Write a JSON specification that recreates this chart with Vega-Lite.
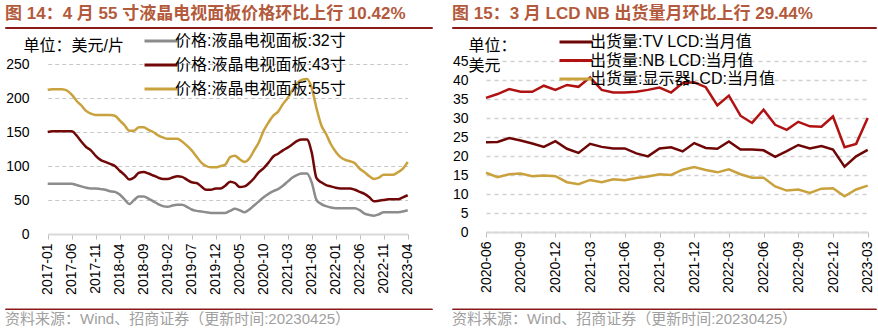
{
  "$schema": "https://vega.github.io/schema/vega-lite/v6.json",
  "padding": {"left": 4, "top": 4, "right": 0, "bottom": 0},
  "background": "white",
  "spacing": 18,
  "resolve": {"scale": {"color": "independent"}, "legend": {"color": "independent"}},
  "config": {
    "font": "Liberation Sans, Noto Sans CJK SC",
    "view": {"stroke": null},
    "axis": {"labelFont": "Liberation Sans, Noto Sans CJK SC", "titleFont": "Liberation Sans, Noto Sans CJK SC", "labelColor": "#000000", "titleColor": "#000000"},
    "legend": {"labelFont": "Liberation Sans, Noto Sans CJK SC", "labelColor": "#000000"}
  },
  "datasets": {
    "p14": [
      {"m":"2017-01","价格:液晶电视面板:32寸":74,"价格:液晶电视面板:43寸":150,"价格:液晶电视面板:55寸":212},
      {"m":"2017-02","价格:液晶电视面板:32寸":74,"价格:液晶电视面板:43寸":151,"价格:液晶电视面板:55寸":213},
      {"m":"2017-03","价格:液晶电视面板:32寸":74,"价格:液晶电视面板:43寸":151,"价格:液晶电视面板:55寸":213},
      {"m":"2017-04","价格:液晶电视面板:32寸":74,"价格:液晶电视面板:43寸":151,"价格:液晶电视面板:55寸":213},
      {"m":"2017-05","价格:液晶电视面板:32寸":74,"价格:液晶电视面板:43寸":151,"价格:液晶电视面板:55寸":211},
      {"m":"2017-06","价格:液晶电视面板:32寸":74,"价格:液晶电视面板:43寸":151,"价格:液晶电视面板:55寸":205},
      {"m":"2017-07","价格:液晶电视面板:32寸":72,"价格:液晶电视面板:43寸":145,"价格:液晶电视面板:55寸":196},
      {"m":"2017-08","价格:液晶电视面板:32寸":70,"价格:液晶电视面板:43寸":136,"价格:液晶电视面板:55寸":189},
      {"m":"2017-09","价格:液晶电视面板:32寸":68,"价格:液晶电视面板:43寸":128,"价格:液晶电视面板:55寸":181},
      {"m":"2017-10","价格:液晶电视面板:32寸":67,"价格:液晶电视面板:43寸":123,"价格:液晶电视面板:55寸":177},
      {"m":"2017-11","价格:液晶电视面板:32寸":67,"价格:液晶电视面板:43寸":115,"价格:液晶电视面板:55寸":175},
      {"m":"2017-12","价格:液晶电视面板:32寸":66,"价格:液晶电视面板:43寸":109,"价格:液晶电视面板:55寸":175},
      {"m":"2018-01","价格:液晶电视面板:32寸":65,"价格:液晶电视面板:43寸":106,"价格:液晶电视面板:55寸":175},
      {"m":"2018-02","价格:液晶电视面板:32寸":63,"价格:液晶电视面板:43寸":103,"价格:液晶电视面板:55寸":175},
      {"m":"2018-03","价格:液晶电视面板:32寸":62,"价格:液晶电视面板:43寸":100,"价格:液晶电视面板:55寸":174},
      {"m":"2018-04","价格:液晶电视面板:32寸":58,"价格:液晶电视面板:43寸":93,"价格:液晶电视面板:55寸":167},
      {"m":"2018-05","价格:液晶电视面板:32寸":51,"价格:液晶电视面板:43寸":87,"价格:液晶电视面板:55寸":160},
      {"m":"2018-06","价格:液晶电视面板:32寸":44,"价格:液晶电视面板:43寸":80,"价格:液晶电视面板:55寸":152},
      {"m":"2018-07","价格:液晶电视面板:32寸":50,"价格:液晶电视面板:43寸":83,"价格:液晶电视面板:55寸":152},
      {"m":"2018-08","价格:液晶电视面板:32寸":55,"价格:液晶电视面板:43寸":90,"价格:液晶电视面板:55寸":157},
      {"m":"2018-09","价格:液晶电视面板:32寸":55,"价格:液晶电视面板:43寸":91,"价格:液晶电视面板:55寸":157},
      {"m":"2018-10","价格:液晶电视面板:32寸":52,"价格:液晶电视面板:43寸":89,"价格:液晶电视面板:55寸":153},
      {"m":"2018-11","价格:液晶电视面板:32寸":48,"价格:液晶电视面板:43寸":86,"价格:液晶电视面板:55寸":150},
      {"m":"2018-12","价格:液晶电视面板:32寸":44,"价格:液晶电视面板:43寸":83,"价格:液晶电视面板:55寸":145},
      {"m":"2019-01","价格:液晶电视面板:32寸":41,"价格:液晶电视面板:43寸":81,"价格:液晶电视面板:55寸":142},
      {"m":"2019-02","价格:液晶电视面板:32寸":40,"价格:液晶电视面板:43寸":81,"价格:液晶电视面板:55寸":140},
      {"m":"2019-03","价格:液晶电视面板:32寸":42,"价格:液晶电视面板:43寸":83,"价格:液晶电视面板:55寸":140},
      {"m":"2019-04","价格:液晶电视面板:32寸":43,"价格:液晶电视面板:43寸":85,"价格:液晶电视面板:55寸":140},
      {"m":"2019-05","价格:液晶电视面板:32寸":43,"价格:液晶电视面板:43寸":84,"价格:液晶电视面板:55寸":136},
      {"m":"2019-06","价格:液晶电视面板:32寸":40,"价格:液晶电视面板:43寸":80,"价格:液晶电视面板:55寸":130},
      {"m":"2019-07","价格:液晶电视面板:32寸":36,"价格:液晶电视面板:43寸":76,"价格:液晶电视面板:55寸":123},
      {"m":"2019-08","价格:液晶电视面板:32寸":34,"价格:液晶电视面板:43寸":75,"价格:液晶电视面板:55寸":114},
      {"m":"2019-09","价格:液晶电视面板:32寸":33,"价格:液晶电视面板:43寸":70,"价格:液晶电视面板:55寸":105},
      {"m":"2019-10","价格:液晶电视面板:32寸":32,"价格:液晶电视面板:43寸":65,"价格:液晶电视面板:55寸":100},
      {"m":"2019-11","价格:液晶电视面板:32寸":31,"价格:液晶电视面板:43寸":65,"价格:液晶电视面板:55寸":98},
      {"m":"2019-12","价格:液晶电视面板:32寸":31,"价格:液晶电视面板:43寸":67,"价格:液晶电视面板:55寸":98},
      {"m":"2020-01","价格:液晶电视面板:32寸":31,"价格:液晶电视面板:43寸":67,"价格:液晶电视面板:55寸":100},
      {"m":"2020-02","价格:液晶电视面板:32寸":31,"价格:液晶电视面板:43寸":71,"价格:液晶电视面板:55寸":102},
      {"m":"2020-03","价格:液晶电视面板:32寸":34,"价格:液晶电视面板:43寸":77,"价格:液晶电视面板:55寸":113},
      {"m":"2020-04","价格:液晶电视面板:32寸":37,"价格:液晶电视面板:43寸":75,"价格:液晶电视面板:55寸":115},
      {"m":"2020-05","价格:液晶电视面板:32寸":35,"价格:液晶电视面板:43寸":69,"价格:液晶电视面板:55寸":110},
      {"m":"2020-06","价格:液晶电视面板:32寸":32,"价格:液晶电视面板:43寸":70,"价格:液晶电视面板:55寸":106},
      {"m":"2020-07","价格:液晶电视面板:32寸":36,"价格:液晶电视面板:43寸":75,"价格:液晶电视面板:55寸":111},
      {"m":"2020-08","价格:液晶电视面板:32寸":42,"价格:液晶电视面板:43寸":82,"价格:液晶电视面板:55寸":123},
      {"m":"2020-09","价格:液晶电视面板:32寸":48,"价格:液晶电视面板:43寸":91,"价格:液晶电视面板:55寸":135},
      {"m":"2020-10","价格:液晶电视面板:32寸":54,"价格:液晶电视面板:43寸":97,"价格:液晶电视面板:55寸":152},
      {"m":"2020-11","价格:液晶电视面板:32寸":59,"价格:液晶电视面板:43寸":105,"价格:液晶电视面板:55寸":164},
      {"m":"2020-12","价格:液晶电视面板:32寸":63,"价格:液晶电视面板:43寸":114,"价格:液晶电视面板:55寸":174},
      {"m":"2021-01","价格:液晶电视面板:32寸":66,"价格:液晶电视面板:43寸":118,"价格:液晶电视面板:55寸":180},
      {"m":"2021-02","价格:液晶电视面板:32寸":71,"价格:液晶电视面板:43寸":123,"价格:液晶电视面板:55寸":191},
      {"m":"2021-03","价格:液晶电视面板:32寸":77,"价格:液晶电视面板:43寸":127,"价格:液晶电视面板:55寸":200},
      {"m":"2021-04","价格:液晶电视面板:32寸":83,"价格:液晶电视面板:43寸":132,"价格:液晶电视面板:55寸":212},
      {"m":"2021-05","价格:液晶电视面板:32寸":87,"价格:液晶电视面板:43寸":137,"价格:液晶电视面板:55寸":222},
      {"m":"2021-06","价格:液晶电视面板:32寸":89,"价格:液晶电视面板:43寸":139,"价格:液晶电视面板:55寸":227},
      {"m":"2021-07","价格:液晶电视面板:32寸":89,"价格:液晶电视面板:43寸":139,"价格:液晶电视面板:55寸":228},
      {"m":"2021-08","价格:液晶电视面板:32寸":76,"价格:液晶电视面板:43寸":120,"价格:液晶电视面板:55寸":215},
      {"m":"2021-09","价格:液晶电视面板:32寸":50,"价格:液晶电视面板:43寸":82,"价格:液晶电视面板:55寸":185},
      {"m":"2021-10","价格:液晶电视面板:32寸":44,"价格:液晶电视面板:43寸":76,"价格:液晶电视面板:55寸":160},
      {"m":"2021-11","价格:液晶电视面板:32寸":41,"价格:液晶电视面板:43寸":72,"价格:液晶电视面板:55寸":147},
      {"m":"2021-12","价格:液晶电视面板:32寸":39,"价格:液晶电视面板:43寸":70,"价格:液晶电视面板:55寸":132},
      {"m":"2022-01","价格:液晶电视面板:32寸":38,"价格:液晶电视面板:43寸":68,"价格:液晶电视面板:55寸":121},
      {"m":"2022-02","价格:液晶电视面板:32寸":38,"价格:液晶电视面板:43寸":67,"价格:液晶电视面板:55寸":113},
      {"m":"2022-03","价格:液晶电视面板:32寸":38,"价格:液晶电视面板:43寸":67,"价格:液晶电视面板:55寸":109},
      {"m":"2022-04","价格:液晶电视面板:32寸":38,"价格:液晶电视面板:43寸":67,"价格:液晶电视面板:55寸":107},
      {"m":"2022-05","价格:液晶电视面板:32寸":38,"价格:液晶电视面板:43寸":65,"价格:液晶电视面板:55寸":104},
      {"m":"2022-06","价格:液晶电视面板:32寸":35,"价格:液晶电视面板:43寸":62,"价格:液晶电视面板:55寸":96},
      {"m":"2022-07","价格:液晶电视面板:32寸":30,"价格:液晶电视面板:43寸":59,"价格:液晶电视面板:55寸":91},
      {"m":"2022-08","价格:液晶电视面板:32寸":28,"价格:液晶电视面板:43寸":54,"价格:液晶电视面板:55寸":85},
      {"m":"2022-09","价格:液晶电视面板:32寸":27,"价格:液晶电视面板:43寸":48,"价格:液晶电视面板:55寸":81},
      {"m":"2022-10","价格:液晶电视面板:32寸":29,"价格:液晶电视面板:43寸":49,"价格:液晶电视面板:55寸":83},
      {"m":"2022-11","价格:液晶电视面板:32寸":32,"价格:液晶电视面板:43寸":50,"价格:液晶电视面板:55寸":87},
      {"m":"2022-12","价格:液晶电视面板:32寸":32,"价格:液晶电视面板:43寸":51,"价格:液晶电视面板:55寸":87},
      {"m":"2023-01","价格:液晶电视面板:32寸":32,"价格:液晶电视面板:43寸":51,"价格:液晶电视面板:55寸":87},
      {"m":"2023-02","价格:液晶电视面板:32寸":32,"价格:液晶电视面板:43寸":51,"价格:液晶电视面板:55寸":91},
      {"m":"2023-03","价格:液晶电视面板:32寸":33,"价格:液晶电视面板:43寸":54,"价格:液晶电视面板:55寸":96},
      {"m":"2023-04","价格:液晶电视面板:32寸":35,"价格:液晶电视面板:43寸":57,"价格:液晶电视面板:55寸":106}
    ],
    "p15": [
      {"m":"2020-06","出货量:TV LCD:当月值":23.6,"出货量:NB LCD:当月值":35.3,"出货量:显示器LCD:当月值":15.6},
      {"m":"2020-07","出货量:TV LCD:当月值":23.7,"出货量:NB LCD:当月值":36.3,"出货量:显示器LCD:当月值":14.4},
      {"m":"2020-08","出货量:TV LCD:当月值":24.7,"出货量:NB LCD:当月值":37.6,"出货量:显示器LCD:当月值":15.2},
      {"m":"2020-09","出货量:TV LCD:当月值":24.1,"出货量:NB LCD:当月值":36.9,"出货量:显示器LCD:当月值":15.4},
      {"m":"2020-10","出货量:TV LCD:当月值":23.3,"出货量:NB LCD:当月值":36.9,"出货量:显示器LCD:当月值":14.7},
      {"m":"2020-11","出货量:TV LCD:当月值":22.4,"出货量:NB LCD:当月值":38.5,"出货量:显示器LCD:当月值":14.9},
      {"m":"2020-12","出货量:TV LCD:当月值":23.9,"出货量:NB LCD:当月值":37.4,"出货量:显示器LCD:当月值":14.7},
      {"m":"2021-01","出货量:TV LCD:当月值":21.9,"出货量:NB LCD:当月值":38.7,"出货量:显示器LCD:当月值":13.1},
      {"m":"2021-02","出货量:TV LCD:当月值":20.8,"出货量:NB LCD:当月值":38.2,"出货量:显示器LCD:当月值":12.6},
      {"m":"2021-03","出货量:TV LCD:当月值":23.2,"出货量:NB LCD:当月值":40.7,"出货量:显示器LCD:当月值":13.7},
      {"m":"2021-04","出货量:TV LCD:当月值":22.4,"出货量:NB LCD:当月值":37.4,"出货量:显示器LCD:当月值":13.1},
      {"m":"2021-05","出货量:TV LCD:当月值":22.0,"出货量:NB LCD:当月值":36.7,"出货量:显示器LCD:当月值":13.9},
      {"m":"2021-06","出货量:TV LCD:当月值":22.0,"出货量:NB LCD:当月值":36.7,"出货量:显示器LCD:当月值":13.6},
      {"m":"2021-07","出货量:TV LCD:当月值":20.7,"出货量:NB LCD:当月值":36.9,"出货量:显示器LCD:当月值":14.2},
      {"m":"2021-08","出货量:TV LCD:当月值":19.9,"出货量:NB LCD:当月值":37.4,"出货量:显示器LCD:当月值":14.6},
      {"m":"2021-09","出货量:TV LCD:当月值":22.0,"出货量:NB LCD:当月值":38.0,"出货量:显示器LCD:当月值":15.2},
      {"m":"2021-10","出货量:TV LCD:当月值":22.3,"出货量:NB LCD:当月值":36.7,"出货量:显示器LCD:当月值":15.0},
      {"m":"2021-11","出货量:TV LCD:当月值":21.2,"出货量:NB LCD:当月值":39.2,"出货量:显示器LCD:当月值":16.4},
      {"m":"2021-12","出货量:TV LCD:当月值":23.4,"出货量:NB LCD:当月值":39.4,"出货量:显示器LCD:当月值":17.1},
      {"m":"2022-01","出货量:TV LCD:当月值":22.1,"出货量:NB LCD:当月值":38.1,"出货量:显示器LCD:当月值":16.3},
      {"m":"2022-02","出货量:TV LCD:当月值":21.9,"出货量:NB LCD:当月值":33.3,"出货量:显示器LCD:当月值":15.7},
      {"m":"2022-03","出货量:TV LCD:当月值":23.8,"出货量:NB LCD:当月值":35.9,"出货量:显示器LCD:当月值":16.5},
      {"m":"2022-04","出货量:TV LCD:当月值":21.7,"出货量:NB LCD:当月值":30.6,"出货量:显示器LCD:当月值":15.2},
      {"m":"2022-05","出货量:TV LCD:当月值":21.7,"出货量:NB LCD:当月值":28.7,"出货量:显示器LCD:当月值":14.3},
      {"m":"2022-06","出货量:TV LCD:当月值":21.5,"出货量:NB LCD:当月值":32.2,"出货量:显示器LCD:当月值":14.3},
      {"m":"2022-07","出货量:TV LCD:当月值":19.8,"出货量:NB LCD:当月值":28.2,"出货量:显示器LCD:当月值":12.0},
      {"m":"2022-08","出货量:TV LCD:当月值":21.3,"出货量:NB LCD:当月值":26.9,"出货量:显示器LCD:当月值":10.9},
      {"m":"2022-09","出货量:TV LCD:当月值":22.9,"出货量:NB LCD:当月值":29.0,"出货量:显示器LCD:当月值":11.2},
      {"m":"2022-10","出货量:TV LCD:当月值":22.0,"出货量:NB LCD:当月值":27.8,"出货量:显示器LCD:当月值":10.3},
      {"m":"2022-11","出货量:TV LCD:当月值":22.6,"出货量:NB LCD:当月值":27.7,"出货量:显示器LCD:当月值":11.4},
      {"m":"2022-12","出货量:TV LCD:当月值":21.7,"出货量:NB LCD:当月值":30.4,"出货量:显示器LCD:当月值":11.5},
      {"m":"2023-01","出货量:TV LCD:当月值":17.2,"出货量:NB LCD:当月值":22.3,"出货量:显示器LCD:当月值":9.4},
      {"m":"2023-02","出货量:TV LCD:当月值":19.9,"出货量:NB LCD:当月值":23.2,"出货量:显示器LCD:当月值":11.2},
      {"m":"2023-03","出货量:TV LCD:当月值":21.6,"出货量:NB LCD:当月值":30.0,"出货量:显示器LCD:当月值":12.2}
    ]
  },
  "hconcat": [
    {
      "concat": [
        {
          "data": {"values": [{}]},
          "width": 427, "height": 1,
          "mark": {"type": "point", "size": 0, "opacity": 0},
          "encoding": {},
          "view": {"stroke": "#8b1a1a", "strokeWidth": 1},
          "title": {"text": "图 14：4 月 55 寸液晶电视面板价格环比上行 10.42%", "anchor": "start", "fontSize": 17, "fontWeight": "bold", "color": "#b35a3c", "offset": 4}
        },
        {
          "concat": [
            {
              "data": {"name": "p14"},
              "width": 427, "height": 199,
              "transform": [{"fold": ["价格:液晶电视面板:32寸", "价格:液晶电视面板:43寸", "价格:液晶电视面板:55寸"], "as": ["s", "v"]}],
              "mark": {"type": "line", "strokeWidth": 2.5, "interpolate": "monotone"},
              "encoding": {
                "x": {"field": "m", "type": "ordinal", "scale": {"type": "point", "padding": 0, "range": [42.7, 402.7]},
                  "axis": {"values": ["2017-01","2017-06","2017-11","2018-04","2018-09","2019-02","2019-07","2019-12","2020-05","2020-10","2021-03","2021-08","2022-01","2022-06","2022-11","2023-04"],
                    "title": null, "labelAngle": 270, "labelFontSize": 14, "tickSize": 5, "tickColor": "#bfbfbf", "domainColor": "#d9d9d9", "domainWidth": 2, "labelPadding": 4, "grid": false}},
                "y": {"field": "v", "type": "quantitative", "scale": {"domain": [0, 250], "range": [199, 29]},
                  "axis": {"values": [0, 50, 100, 150, 200, 250], "offset": -42.7, "grid": true, "gridDash": [4, 3], "gridColor": "#c8c8c8", "domain": false, "ticks": false, "labelPadding": 18.7, "labelFontSize": 14,
                    "title": "单位：美元/片", "titleAngle": 0, "titleAlign": "left", "titleBaseline": "middle", "titleX": -24.7, "titleY": 10, "titleFontSize": 16, "titleFontWeight": "normal"}},
                "color": {"field": "s", "type": "nominal",
                  "scale": {"domain": ["价格:液晶电视面板:32寸", "价格:液晶电视面板:43寸", "价格:液晶电视面板:55寸"], "range": ["#8c8c8c", "#700808", "#c9a13d"]},
                  "legend": {"orient": "none", "legendX": 146, "legendY": 4, "title": null, "symbolType": "M-2,0H2", "symbolSize": 272, "symbolStrokeWidth": 3, "labelFontSize": 16, "rowPadding": 6, "labelOffset": 4, "labelLimit": 300}}
              }
            },
            {
              "data": {"values": [{}]},
              "width": 427, "height": 0.5,
              "mark": {"type": "point", "size": 0, "opacity": 0},
              "encoding": {},
              "view": {"stroke": "#8b1a1a", "strokeWidth": 1},
              "title": {"text": "资料来源：Wind、招商证券（更新时间:20230425）", "orient": "bottom", "anchor": "start", "fontSize": 15, "fontWeight": "normal", "color": "#a0a0a0", "offset": 3}
            }
          ],
          "columns": 1, "align": "none", "spacing": 12.5
        }
      ],
      "columns": 1, "align": "none", "spacing": 6
    },
    {
      "concat": [
        {
          "data": {"values": [{}]},
          "width": 424, "height": 1,
          "mark": {"type": "point", "size": 0, "opacity": 0},
          "encoding": {},
          "view": {"stroke": "#8b1a1a", "strokeWidth": 1},
          "title": {"text": "图 15：3 月 LCD NB 出货量月环比上行 29.44%", "anchor": "start", "fontSize": 17, "fontWeight": "bold", "color": "#b35a3c", "offset": 4}
        },
        {
          "concat": [
            {
              "data": {"name": "p15"},
              "width": 424, "height": 197,
              "transform": [{"fold": ["出货量:TV LCD:当月值", "出货量:NB LCD:当月值", "出货量:显示器LCD:当月值"], "as": ["s", "v"]}],
              "mark": {"type": "line", "strokeWidth": 2.5},
              "encoding": {
                "x": {"field": "m", "type": "ordinal", "scale": {"type": "point", "padding": 0, "range": [34, 415.7]},
                  "axis": {"values": ["2020-06","2020-09","2020-12","2021-03","2021-06","2021-09","2021-12","2022-03","2022-06","2022-09","2022-12","2023-03"],
                    "title": null, "labelAngle": 270, "labelFontSize": 14, "tickSize": 5, "tickColor": "#bfbfbf", "domainColor": "#d9d9d9", "domainWidth": 2, "labelPadding": 4, "grid": false}},
                "y": {"field": "v", "type": "quantitative", "scale": {"domain": [0, 45], "range": [197, 26]},
                  "axis": {"values": [0, 5, 10, 15, 20, 25, 30, 35, 40, 45], "offset": -34, "grid": true, "gridDash": [4, 4], "gridColor": "#d0d0d0", "gridWidth": 1.5, "domain": false, "ticks": false, "labelPadding": 18, "labelFontSize": 14,
                    "title": ["单位：", "美元"], "titleAngle": 0, "titleAlign": "left", "titleBaseline": "top", "titleLineHeight": 20, "titleX": -18, "titleY": 2, "titleFontSize": 16, "titleFontWeight": "normal"}},
                "color": {"field": "s", "type": "nominal",
                  "scale": {"domain": ["出货量:TV LCD:当月值", "出货量:NB LCD:当月值", "出货量:显示器LCD:当月值"], "range": ["#6e0606", "#b01212", "#c9a13d"]},
                  "legend": {"orient": "none", "legendX": 114, "legendY": 5, "title": null, "symbolType": "M-2,0H2", "symbolSize": 272, "symbolStrokeWidth": 3, "labelFontSize": 16, "rowPadding": 0.5, "labelOffset": 4, "labelLimit": 300}}
              }
            },
            {
              "data": {"values": [{}]},
              "width": 424, "height": 0.5,
              "mark": {"type": "point", "size": 0, "opacity": 0},
              "encoding": {},
              "view": {"stroke": "#8b1a1a", "strokeWidth": 1},
              "title": {"text": "资料来源：Wind、招商证券（更新时间:20230425）", "orient": "bottom", "anchor": "start", "fontSize": 15, "fontWeight": "normal", "color": "#a0a0a0", "offset": 3}
            }
          ],
          "columns": 1, "align": "none", "spacing": 14.5
        }
      ],
      "columns": 1, "align": "none", "spacing": 6
    }
  ]
}
